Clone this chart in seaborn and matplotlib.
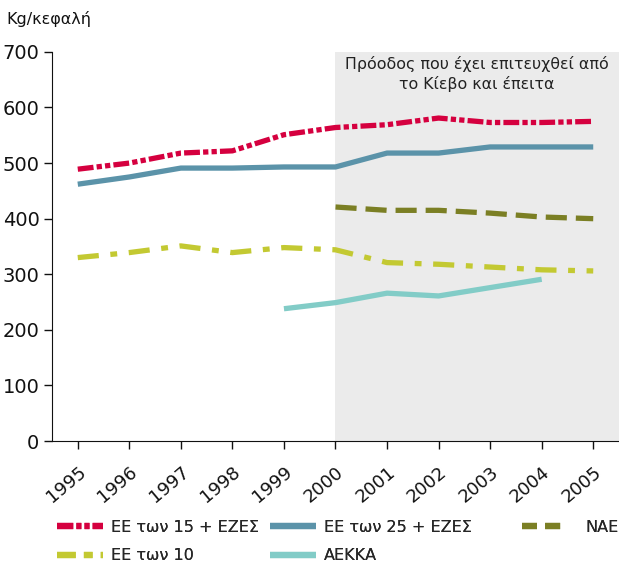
import pandas as pd
import matplotlib.pyplot as plt
import seaborn as sns
from matplotlib.lines import Line2D

# data
years = list(range(1995, 2006))
eu15_efta = [489, 500, 518, 522, 551, 564, 569, 581, 573, 573, 575]
eu25_efta = [462, 475, 491, 491, 493, 493, 518, 518, 529, 529, 529]
see = [None, None, None, None, None, 421, 415, 415, 410, 403, 400]
eu10 = [330, 339, 351, 339, 348, 344, 321, 318, 313, 308, 306]
eecca = [None, None, None, None, 238, 249, 266, 261, 276, 291, None]

series_names = ["ΕΕ των 15 + ΕΖΕΣ", "ΕΕ των 25 + ΕΖΕΣ", "ΝΑΕ", "ΕΕ των 10", "ΑΕΚΚΑ"]
series_values = [eu15_efta, eu25_efta, see, eu10, eecca]
colors = ["#d5003f", "#5b93a9", "#7b7f24", "#c3c932", "#82ccc7"]
dashes = [(3, 0.6, 1, 0.6, 1, 0.6), "", (4, 1.7), (4, 2.2, 1.3, 2.2), ""]
legend_dashes = [(2.6, 0.5, 0.8, 0.5, 0.8, 0.5), None, (2.4, 1.3), (3, 1.3, 1.4, 1.3), None]

rows = []
for name, vals in zip(series_names, series_values):
    for y, v in zip(years, vals):
        if v is not None:
            rows.append({"year": y, "value": v, "series": name})
df = pd.DataFrame(rows)

sns.set_style("ticks")
plt.rcParams["font.family"] = ["DejaVu Sans"]
plt.rcParams["lines.solid_capstyle"] = "butt"
plt.rcParams["lines.dash_capstyle"] = "butt"

fig = plt.figure(figsize=(6.19, 5.64), dpi=100)
ax = fig.add_axes([0.084, 0.218, 0.916, 0.69])

# shaded period
ax.axvspan(2000, 2005.5, color="#ebebeb", zorder=0, lw=0)
ax.text(2002.75, 661, "Πρόοδος που έχει επιτευχθεί από\nτο Κίεβο και έπειτα",
        ha="center", va="center", fontsize=11.4, color="#222222", linespacing=1.3)

sns.lineplot(data=df, x="year", y="value", hue="series", style="series",
             hue_order=series_names, style_order=series_names,
             palette=colors, dashes=dashes, linewidth=3.8, ax=ax,
             legend=False)

ax.set_xlim(1994.5, 2005.5)
ax.set_ylim(0, 700)
ax.set_yticks(range(0, 701, 100))
ax.set_xticks(years)
ax.set_xticklabels([str(y) for y in years], rotation=40, ha="right",
                   rotation_mode="anchor", fontsize=13)
ax.tick_params(axis="y", labelsize=14, length=6, width=1, colors="#111111", pad=3)
ax.tick_params(axis="x", length=6, width=1, colors="#111111", pad=10)
ax.set_xlabel("")
ax.set_ylabel("")
sns.despine(ax=ax)
for s in ["left", "bottom"]:
    ax.spines[s].set_color("#111111")

fig.text(0.011, 0.967, "Kg/κεφαλή", fontsize=11.5, va="center", ha="left", color="#111111")

# legend: one small legend per entry, laid out in a 3 x 2 grid
handles = []
for c, d in zip(colors, legend_dashes):
    h = Line2D([], [], color=c, lw=4.5, solid_capstyle="butt", dash_capstyle="butt")
    if d:
        h.set_dashes(d)
    handles.append(h)
col_x = [0.092, 0.436, 0.843]
row_y = [1 - 527 / 564, 1 - 556 / 564]
slots = [(0, 0), (1, 0), (2, 0), (0, 1), (1, 1)]
for i, (ci, ri) in enumerate(slots):
    leg = fig.legend([handles[i]], [series_names[i]],
                     loc="center left", bbox_to_anchor=(col_x[ci], row_y[ri]),
                     frameon=False, fontsize=11.5, handlelength=2.9,
                     handletextpad=0.5 if ci < 2 else 1.1,
                     borderpad=0, borderaxespad=0)
    fig.add_artist(leg)

fig.savefig("out.png", dpi=100)
